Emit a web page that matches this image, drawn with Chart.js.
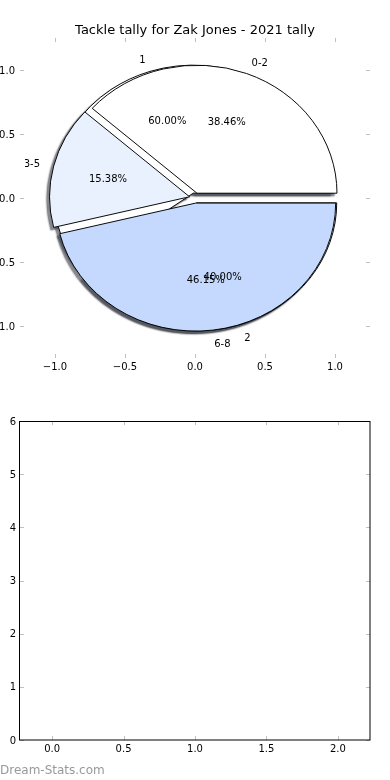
<!DOCTYPE html>
<html>
<head>
<meta charset="utf-8">
<script src="https://cdn.jsdelivr.net/npm/chart.js@4.4.1/dist/chart.umd.min.js"></script>
<style>
  html, body { margin: 0; padding: 0; background: #fff; }
  body { width: 390px; height: 780px; position: relative; overflow: hidden; }
  canvas { position: absolute; }
  #axesTop { left: -30px; top: 0; }
  #shadowLayer, #pieBack, #pieFront { left: 25px; top: 28px; }
  #axesBottom { left: 0; top: 390px; }
  #mark { position: absolute; left: 0; top: 763px; font: 12px "DejaVu Sans"; line-height: 14px; color: #999; }
</style>
</head>
<body>
<canvas id="axesTop" width="430" height="390"></canvas>
<canvas id="shadowLayer" width="340" height="340"></canvas>
<canvas id="pieBack" width="340" height="340"></canvas>
<canvas id="pieFront" width="340" height="340"></canvas>
<canvas id="axesBottom" width="390" height="390"></canvas>
<div id="mark">Dream-Stats.com</div>

<script>
// tally buckets (front pie)
const bucketLabels = ['0-2', '3-5', '6-8'];
const bucketValues = [5, 2, 6];
const bucketColors = ['#ffffff', '#eaf1fe', '#c4d9fd'];

// second pie, drawn underneath
const gameLabels = ['1', '2'];
const gameValues = [3, 2];
const gameColors = ['#ffffff', '#eaf1fe'];

// tick labels
const pieTicks = [-1.0, -0.5, 0.0, 0.5, 1.0];
const lowerXTicks = [0.0, 0.5, 1.0, 1.5, 2.0];
const lowerYTicks = [0, 1, 2, 3, 4, 5, 6];

const R = 140;              // pie radius in px (x direction)
const SQUASH = 128 / 140;   // axes are not equal aspect
const EXPLODE = 0.04;
const SHADOW_DX = -2.8, SHADOW_DY = 2.6;
const TEXT_NUDGE = 1.5;     // canvas 'middle' sits a bit higher than mpl's center

Chart.defaults.font.family = '"DejaVu Sans"';
Chart.defaults.font.size = 10;
Chart.defaults.color = '#000';

const fmt1 = v => (v < 0 ? '\u2212' : '') + Math.abs(v).toFixed(1);

// gray tick marks pointing inwards on all four sides (+ optional frame)
const innerTicks = {
  id: 'innerTicks',
  afterDraw(chart, args, opts) {
    const { ctx, chartArea: a, scales: { x, y } } = chart;
    ctx.save();
    ctx.strokeStyle = '#bfbfbf';
    ctx.lineWidth = 1;
    ctx.beginPath();
    x.ticks.forEach(t => {
      const px = Math.round(x.getPixelForValue(t.value)) + 0.5;
      ctx.moveTo(px, a.top); ctx.lineTo(px, a.top + 4);
      ctx.moveTo(px, a.bottom); ctx.lineTo(px, a.bottom - 4);
    });
    y.ticks.forEach(t => {
      const py = Math.round(y.getPixelForValue(t.value)) + 0.5;
      ctx.moveTo(a.left, py); ctx.lineTo(a.left + 4, py);
      ctx.moveTo(a.right, py); ctx.lineTo(a.right - 4, py);
    });
    ctx.stroke();
    if (opts.frame) {
      ctx.strokeStyle = '#000';
      ctx.strokeRect(Math.round(a.left) - 0.5, Math.round(a.top) + 0.5,
        Math.round(a.right - a.left) + 0.5, Math.round(a.bottom - a.top) - 0.5);
    }
    ctx.restore();
  }
};

// move + squash each wedge like matplotlib does (explode, unequal axes)
function place(ctx, arc) {
  const mid = (arc.startAngle + arc.endAngle) / 2;
  ctx.translate(arc.x, arc.y);
  ctx.scale(1, SQUASH);
  ctx.translate(-arc.x, -arc.y);
  ctx.translate(Math.cos(mid) * EXPLODE * R, Math.sin(mid) * EXPLODE * R);
}

const squashedPie = {
  id: 'squashedPie',
  beforeDatasetsDraw(chart) {
    const ctx = chart.ctx;
    const arcs = chart.getDatasetMeta(0).data;
    // shadows go on their own layer so they stay under every wedge
    const sh = document.getElementById('shadowLayer').getContext('2d');
    arcs.forEach(arc => {
      sh.save();
      sh.shadowColor = 'rgba(55,58,66,0.6)';
      sh.shadowBlur = 1.5;
      sh.shadowOffsetX = 4000 + SHADOW_DX;
      sh.shadowOffsetY = SHADOW_DY;
      sh.translate(-4000, 0);
      place(sh, arc);
      arc.draw(sh);
      sh.restore();
    });
    arcs.forEach(arc => {
      ctx.save();
      place(ctx, arc);
      arc.draw(ctx);
      ctx.restore();
    });
    return false;
  }
};

function drawPieText(ctx, c) {
  const arcs = c.getDatasetMeta(0).data;
  const vals = c.data.datasets[0].data;
  const total = vals.reduce((a, b) => a + b, 0);
  arcs.forEach((arc, i) => {
    const mid = (arc.startAngle + arc.endAngle) / 2;
    const cos = Math.cos(mid), sin = Math.sin(mid);
    const at = f => [arc.x + (f + EXPLODE) * R * cos,
                     arc.y + (f + EXPLODE) * R * sin * SQUASH + TEXT_NUDGE];
    const [lx, ly] = at(1.1);
    ctx.textAlign = lx > arc.x ? 'left' : 'right';
    ctx.fillText(c.data.labels[i], lx, ly);
    const [px, py] = at(0.6);
    ctx.textAlign = 'center';
    ctx.fillText((vals[i] / total * 100).toFixed(2) + '%', px, py);
  });
}

function makePie(id, labels, values, colors, extra) {
  // matplotlib runs counter-clockwise from 3 o'clock, chart.js clockwise -> reverse order
  return new Chart(document.getElementById(id), {
    type: 'pie',
    data: {
      labels: labels.slice().reverse(),
      datasets: [{
        data: values.slice().reverse(),
        backgroundColor: colors.slice().reverse(),
        borderColor: '#000',
        borderWidth: 1,
        borderJoinStyle: 'miter',
        rotation: 90,
        radius: R
      }]
    },
    options: {
      responsive: false,
      animation: false,
      events: [],
      layout: { padding: 0 },
      plugins: { legend: { display: false }, tooltip: { enabled: false } }
    },
    plugins: [squashedPie].concat(extra || [])
  });
}

// axes behind the pie
new Chart(document.getElementById('axesTop'), {
  type: 'scatter',
  data: { datasets: [] },
  options: {
    responsive: false,
    animation: false,
    events: [],
    layout: { padding: { left: 0, right: 30, top: 0, bottom: 0 } },
    plugins: {
      legend: { display: false },
      tooltip: { enabled: false },
      title: {
        display: true,
        text: 'Tackle tally for Zak Jones - 2021 tally',
        fullSize: false,
        color: '#000',
        font: { size: 13, weight: 'normal', lineHeight: 1.1 },
        padding: { top: 23.7, bottom: 0 }
      },
      innerTicks: { frame: false }
    },
    scales: {
      x: {
        type: 'linear', min: -1.25, max: 1.25,
        grid: { display: false, drawTicks: false },
        border: { display: false },
        ticks: { padding: 3, autoSkip: false, maxRotation: 0, callback: v => fmt1(v) },
        afterBuildTicks: s => { s.ticks = pieTicks.map(v => ({ value: v })); },
        afterFit: s => { s.height = 32; }
      },
      y: {
        type: 'linear', min: -1.25, max: 1.25,
        grid: { display: false, drawTicks: false },
        border: { display: false },
        ticks: { padding: 5, labelOffset: 1, autoSkip: false, callback: v => fmt1(v) },
        afterBuildTicks: s => { s.ticks = pieTicks.map(v => ({ value: v })); },
        afterFit: s => { s.width = 50; }
      }
    }
  },
  plugins: [innerTicks]
});

const backPie = makePie('pieBack', gameLabels, gameValues, gameColors);
makePie('pieFront', bucketLabels, bucketValues, bucketColors, [{
  id: 'pieText',
  afterDraw(chart) {
    const ctx = chart.ctx;
    ctx.save();
    ctx.font = '10px "DejaVu Sans"';
    ctx.fillStyle = '#000';
    ctx.textBaseline = 'middle';
    drawPieText(ctx, backPie);
    drawPieText(ctx, chart);
    ctx.restore();
  }
}]);

// empty lower axes
new Chart(document.getElementById('axesBottom'), {
  type: 'scatter',
  data: { datasets: [] },
  options: {
    responsive: false,
    animation: false,
    events: [],
    layout: { padding: { left: 0, right: 20, top: 31, bottom: 0 } },
    plugins: {
      legend: { display: false },
      tooltip: { enabled: false },
      innerTicks: { frame: true }
    },
    scales: {
      x: {
        type: 'linear', min: -0.225, max: 2.225,
        grid: { display: false, drawTicks: false },
        border: { display: false },
        ticks: { padding: 3, autoSkip: false, maxRotation: 0, callback: v => fmt1(v) },
        afterBuildTicks: s => { s.ticks = lowerXTicks.map(v => ({ value: v })); },
        afterFit: s => { s.height = 40; }
      },
      y: {
        type: 'linear', min: 0, max: 6,
        grid: { display: false, drawTicks: false },
        border: { display: false },
        ticks: { padding: 4, labelOffset: 1, autoSkip: false, callback: v => String(v) },
        afterBuildTicks: s => { s.ticks = lowerYTicks.map(v => ({ value: v })); },
        afterFit: s => { s.width = 20; }
      }
    }
  },
  plugins: [innerTicks]
});
</script>
</body>
</html>
